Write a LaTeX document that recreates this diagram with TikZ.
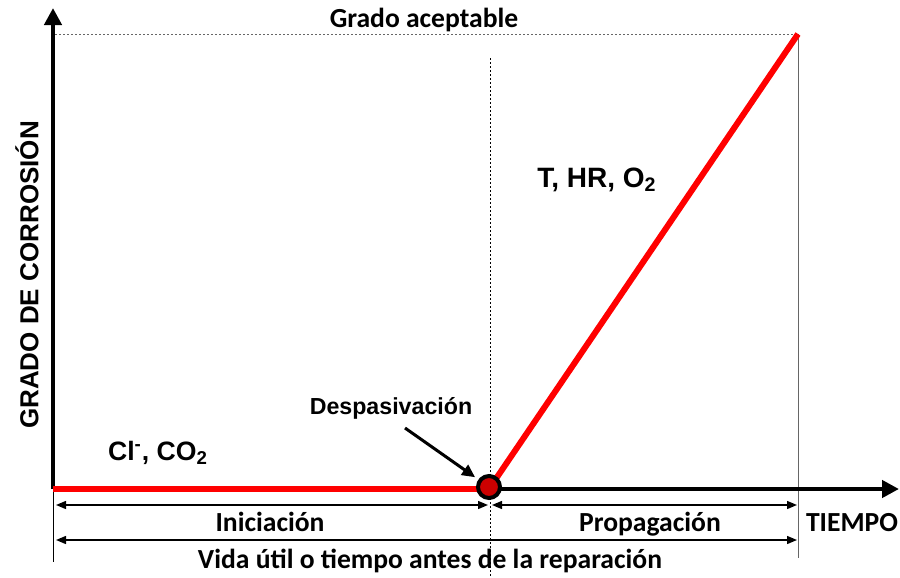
\documentclass[tikz,border=0pt]{standalone}
\usepackage{fontspec}
\setmainfont{Carlito}
\newfontfamily\arialfont{Liberation Sans}
\usepackage{tikz}
\usetikzlibrary{arrows,arrows.meta,positioning}

\begin{document}
\begin{tikzpicture}[x=0.5pt,y=-0.5pt,
    axis/.style={line width=2.3pt,-{Triangle[length=8.5pt,width=8.5pt]}},
    redline/.style={line width=3pt,red},
    guide/.style={black!60,line width=0.5pt},
    span/.style={line width=0.7pt,{Triangle[length=5pt,width=4pt]}-{Triangle[length=5pt,width=4pt]}},
    lbl/.style={anchor=base,font=\fontsize{13.8}{16}\selectfont\bfseries},
    arl/.style={font=\arialfont\bfseries\fontsize{13}{15}\selectfont}]
    \useasboundingbox (0,0) rectangle (900,578);
    \coordinate (O) at (53,489);
    \coordinate (ytop) at (53,8);
    \coordinate (xend) at (899,489);
    \coordinate (D) at (489,489);
    \coordinate (A) at (798,34);
    \coordinate (Abot) at (798,558);
    \coordinate (mtop) at (490,58);
    \coordinate (mbot) at (490,576);
    \coordinate (lbot) at (53,562);
    \coordinate (iniL) at (56,505);
    \coordinate (iniR) at (488,505);
    \coordinate (proL) at (492,505);
    \coordinate (proR) at (797,505);
    \coordinate (vidL) at (56,540);
    \coordinate (vidR) at (797,540);
    \coordinate (despfrom) at (405,428);

    \draw[guide,dash pattern=on 1.2pt off 0.8pt] (55,34) -- (A);
    \draw[guide] (A) -- (Abot);
    \draw[black,line width=0.4pt,dash pattern=on 1pt off 1pt] (mtop) -- (mbot);
    \draw[black,line width=0.5pt] (O) -- (lbot);

    \draw[axis] (O) -- (ytop);
    \draw[axis] (D) -- (xend);
    \draw[redline] (O) -- (D);
    \draw[redline] (D) -- (A);
    \node[circle,draw=black,line width=2pt,fill=red!80!black,minimum size=11pt,inner sep=0pt] (dot) at (489,487) {};

    \draw[span] (iniL) -- (iniR);
    \draw[span] (proL) -- (proR);
    \draw[span] (vidL) -- (vidR);
    \draw[line width=1.5pt,-{Triangle[length=6.5pt,width=6pt]},shorten >=2pt] (despfrom) -- (dot);

    \node[lbl] (grado) at (424,27) {Grado aceptable};
    \node[lbl] (ini) at (270,531) {Iniciación};
    \node[lbl] (pro) at (650,531) {Propagación};
    \node[lbl] (tiempo) at (852,531) {TIEMPO};
    \node[lbl] (vida) at (430,568) {Vida útil o tiempo antes de la reparación};
    \node[arl,rotate=90] (ylab) at (27,275) {GRADO DE CORROSIÓN};
    \node[arl,font=\arialfont\bfseries\fontsize{13.3}{15}\selectfont] (cl) at (158,453) {Cl\textsuperscript{-}, CO\textsubscript{2}};
    \node[arl,font=\arialfont\bfseries\fontsize{14}{16}\selectfont] (thr) at (597,180) {T, HR, O\textsubscript{2}};
    \node[arl,font=\arialfont\bfseries\fontsize{11.6}{13}\selectfont] (desp) at (391,408) {Despasivación};
\end{tikzpicture}
\end{document}
